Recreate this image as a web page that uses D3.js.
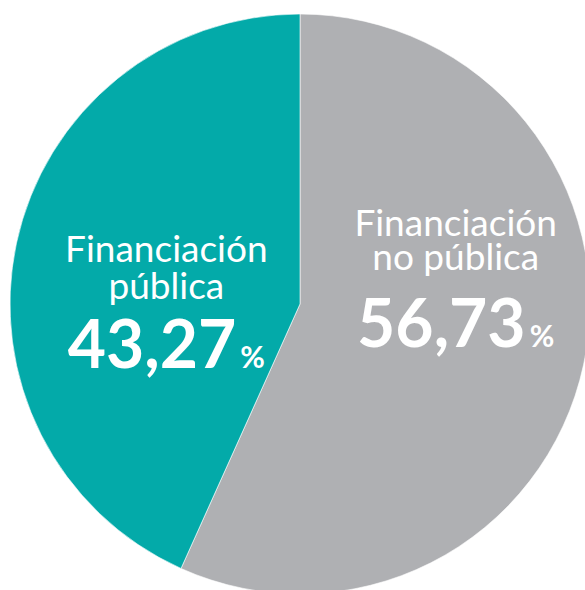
<!DOCTYPE html>
<html>
<head>
<meta charset="utf-8">
<script src="https://cdn.jsdelivr.net/npm/d3@7"></script>
<style>
  html, body { margin: 0; padding: 0; background: #fff; }
  svg { display: block; }
</style>
</head>
<body>
<div id="viz"></div>
<script>
// data
var categories = ["Financiación no pública", "Financiación pública"];
var labelLines = [["Financiación", "no pública"], ["Financiación", "pública"]];
var values = [56.73, 43.27];
var valueLabels = ["56,73", "43,27"];
var colors = ["#afb0b3", "#03aaa9"];

var width = 585, height = 590;
var cx = 300, cy = 304, radius = 290;

var svg = d3.select("#viz").append("svg")
    .attr("width", width)
    .attr("height", height);

var g = svg.append("g")
    .attr("transform", "translate(" + cx + "," + cy + ")");

var pie = d3.pie().sort(null).value(function(d) { return d; });
var arc = d3.arc().innerRadius(0).outerRadius(radius);
var labelArc = d3.arc().innerRadius(0).outerRadius(300);

var arcs = pie(values);

g.selectAll("path.slice")
    .data(arcs)
    .enter()
    .append("path")
    .attr("class", "slice")
    .attr("d", arc)
    .attr("fill", function(d, i) { return colors[i]; })
    .attr("stroke", "#fff")
    .attr("stroke-width", 0.6);

// labels sit around the slice centroid, nudged per side
// (origin of each label group = baseline of the first line)
var nudge = [{dx: 9, dy: -99, gap: 34, numY: 111}, {dx: 13, dy: -11, gap: 37, numY: 106}];

var labels = g.selectAll("g.label")
    .data(arcs)
    .enter()
    .append("g")
    .attr("class", "label")
    .attr("transform", function(d, i) {
      var c = labelArc.centroid(d);
      return "translate(" + (c[0] + nudge[i].dx) + "," + (c[1] + nudge[i].dy) + ")";
    });

labels.each(function(d, i) {
  var lab = d3.select(this);
  lab.selectAll("text.name")
      .data(labelLines[i])
      .enter()
      .append("text")
      .attr("class", "name")
      .attr("text-anchor", "middle")
      .attr("y", function(t, j) { return j * nudge[i].gap; })
      .attr("fill", "#fff")
      .style("font-family", "Lato, 'Open Sans', sans-serif")
      .style("font-size", "37px")
      .text(function(t) { return t; });

  var num = lab.append("text")
      .attr("text-anchor", "middle")
      .attr("y", nudge[i].numY)
      .attr("fill", "#fff")
      .style("font-family", "Lato, 'Open Sans', sans-serif")
      .style("font-weight", "bold")
      .style("font-size", "66px");
  num.append("tspan").text(valueLabels[i]);
  num.append("tspan")
      .style("font-size", "30px")
      .attr("dx", 4)
      .text("%");
});
</script>
</body>
</html>
